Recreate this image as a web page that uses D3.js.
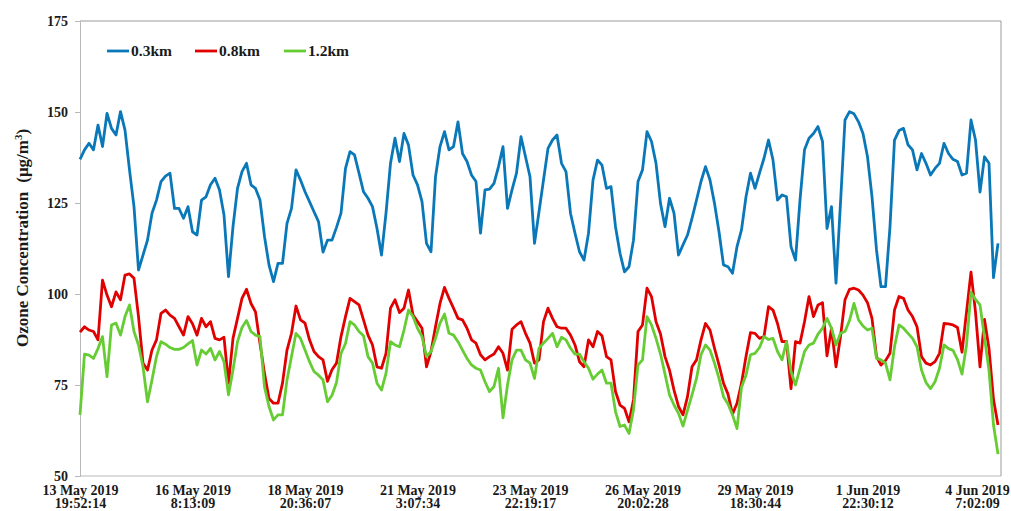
<!DOCTYPE html>
<html>
<head>
<meta charset="utf-8">
<script src="https://cdn.jsdelivr.net/npm/d3@7/dist/d3.min.js"></script>
<style>
  html, body { margin: 0; padding: 0; background: #fff; }
  svg { display: block; }
  text { font-family: "Liberation Serif", "Times New Roman", serif; font-weight: bold; fill: #1a1a1a; }
</style>
</head>
<body>
<svg id="chart" width="1011" height="511"></svg>
<script>
// Ozone concentration at three heights, one sample per category step
const seriesNames = ["0.3km", "0.8km", "1.2km"];

const ozone03 = [
  137,139.6,141.4,139.6,146.4,140.5,149.6,145.5,143.7,150.1,145,134.1,124,106.6,110.7,114.8,122.2,125.8,130.9,132.4,
  133.2,123.5,123.5,120.8,124,117.1,116.2,125.8,126.7,130,131.8,128.6,121.7,104.8,118.5,129,133.6,135.9,130,129,
  125.8,115.8,108,103.4,108.4,108.4,119.4,123.5,134.1,131.3,128.1,125.4,122.6,119.9,111.5,114.8,114.8,118.3,122.2,134.5,
  139.1,138.2,133.2,128.1,126.3,124,118,110.7,122.2,135.9,142.8,136.4,144.1,140.9,132.7,130,125.4,113.9,111.6,132.2,
  140.5,144.6,139.6,140.5,147.3,138.6,136.4,132.7,130.9,116.7,128.6,128.8,130.4,135,140.5,123.5,128.6,133.2,143.2,137.7,
  132.2,113.9,122.6,131.3,140,142.3,143.7,135.9,133.6,122.2,116.7,111.6,109.3,116.7,131.3,136.8,135.4,129,129.5,118.5,
  111.2,106.1,107.5,114.8,130.9,134.1,144.6,141.9,135.9,124.9,118.5,126.3,122.2,110.7,113.5,116.2,120.8,125.8,130.9,135,
  131.3,124.9,117.1,108,107.5,105.7,113,117.6,126.7,133.2,129,133.2,137.3,142.3,136.8,125.8,127.2,126.7,113,109.3,
  125.8,139.6,142.8,144.1,146,141.9,118,124,103,125,147.8,150.1,149.5,147.3,144.1,137.7,126.7,112.1,102,102,
  118.5,142.3,144.9,145.5,141,139.6,134.1,138.6,135.9,132.7,134.5,135.9,141.4,138.6,137,136.4,132.7,133.2,147.8,142.3,
  128,137.7,135.9,104.5,113.9
];

const ozone08 = [
  89.5,91,90.1,89.7,87.4,103.8,99.7,96.5,100.6,98.4,105.2,105.5,104.3,93.8,81,79.1,84.6,87.4,94.7,95.6,
  94.2,93.3,91,88.7,93.8,91.8,88.7,93.3,91,92.4,87.8,87.4,88.1,75.5,87.8,93.3,98.8,101.3,97.4,95.1,
  86.4,78.2,71.3,70,70,75.5,84.6,89.2,96.7,92.9,92,87.4,84.2,82.8,81.9,76,79.2,81,88.3,93.8,
  98.8,97.9,97,92.9,88.7,86,80,79.6,83.7,96.1,98.4,94.9,96.1,101.1,94.2,92.4,90.6,80,84.2,91,
  97.4,101.8,98.8,96.1,93.3,92.9,90.6,87.4,86.5,83.3,81.9,82.8,83.5,85.5,83.7,79.1,90.3,91.5,92.4,89.2,
  86.5,81,81.9,92.4,96.1,93.3,91,90.6,90.6,88.7,86,81.4,80,87.4,85.5,89.7,88.5,82.8,81.9,73.2,
  69.5,68.6,64.9,70.9,89.7,91.5,101.6,99.3,92.4,89,82.8,79.1,73.6,69.1,66.8,71.8,80,81.9,87.4,91.9,
  90.1,85.1,80.5,75.5,72.5,67,70,75.5,82.8,89.4,89.2,87.8,88.3,96.5,95.6,91.9,86.9,87,74,86.9,
  86.5,92.4,99.3,93.8,97,97.6,83,90.6,80,88.3,98.4,101.3,101.6,101.1,99.7,97.6,93.3,82.8,80.5,81.7,
  83.7,95.6,99.3,98.8,95.6,93.8,91,82.8,81,80.5,81.4,83.7,91.9,91.8,91.5,90.8,84,95,106,95,
  80,93,85,71,64
];

const ozone12 = [
  66.8,83.5,83.2,82.3,85,88.3,77.3,91.5,92,88.7,93.8,97,89.7,86,80,70.4,76.4,82.8,86.9,86.2,
  85.3,84.8,84.8,85.3,86.3,87.2,80.5,84.6,83.5,85.1,81.9,84.2,81.4,72.3,79.1,86.9,90.8,92.7,89.7,88.7,
  88.3,74.5,69.1,65.4,66.8,66.8,76.4,82.8,89.2,87.8,84.6,81.4,78.7,77.7,76.4,70.4,72.2,75.7,83.7,86.4,
  92.4,91.5,89.7,88.5,82.8,81,75.5,73.6,78.2,86.9,86,85.5,90.1,95.6,93.8,90.6,88.3,82.8,84.2,87.8,
  92,94.5,89.2,88.7,86.9,84.6,82.3,80.5,79.6,79.1,75.9,73.2,74.6,79.6,66,75,81.9,84.6,84.6,81.9,
  81,76.8,85.1,86.5,87.8,89.2,85.5,88.1,87.4,85.1,83.5,83.5,81.4,79.6,76.6,78,79.1,75.5,75.5,67.7,
  63.6,64,61.7,68.2,80.5,81.9,93.8,91.5,87.8,83.5,78,72.3,69.5,67.2,63.7,68,72.3,76.8,83.3,86,
  84.6,81,76.8,71.8,69.8,66.8,63,74.4,77.7,83.3,83.7,85.3,88.3,87.5,87.8,84.2,81.9,86.9,78.7,75,
  79.6,84.2,86,86.5,89,90.6,93.3,90.6,86,89.2,89.7,92.7,97.4,92.9,91.2,90.1,90.6,82.3,81.9,81,
  76.4,85.5,91.5,90.6,89.2,87.8,85.5,79.1,75.7,74,75.9,79.6,86,85,84.5,82,78,86,100.5,98.5,
  97,88,79,64,56
];

// Category labels shown every 25 samples
const dateLabels = [
  ["13 May 2019", "19:52:14"],
  ["16 May 2019", "8:13:09"],
  ["18 May 2019", "20:36:07"],
  ["21 May 2019", "3:07:34"],
  ["23 May 2019", "22:19:17"],
  ["26 May 2019", "20:02:28"],
  ["29 May 2019", "18:30:44"],
  ["1 Jun 2019", "22:30:12"],
  ["4 Jun 2019", "7:02:09"]
];
const labelStep = 25;
const yTicks = [50, 75, 100, 125, 150, 175];

const colors = ["#0a78b8", "#e00000", "#66cc33"];

const svg = d3.select("#chart");
const plotLeft = 80, plotRight = 1001, plotTop = 21, plotBottom = 476;

const n = ozone03.length;
const x = d3.scaleLinear().domain([0, n - 1]).range([plotLeft, plotLeft + (n - 1) * 4.5]);
const y = d3.scaleLinear().domain([50, 175]).range([plotBottom, plotTop]);

// frame: top and right border
svg.append("line").attr("x1", plotLeft).attr("x2", plotRight).attr("y1", plotTop).attr("y2", plotTop)
  .attr("stroke", "#9a9a9a").attr("stroke-width", 1);
svg.append("line").attr("x1", plotRight).attr("x2", plotRight).attr("y1", plotTop).attr("y2", plotBottom)
  .attr("stroke", "#9a9a9a").attr("stroke-width", 1);

// y axis
const yAxis = svg.append("g").attr("transform", `translate(${plotLeft},0)`)
  .call(d3.axisLeft(y).tickValues(yTicks).tickSize(5).tickPadding(7));
yAxis.select(".domain").attr("stroke", "#b8b8b8");
yAxis.selectAll(".tick line").attr("stroke", "#b8b8b8");
yAxis.selectAll(".tick text").style("font-size", "14px")
  .style("font-family", "'Liberation Serif', serif").style("font-weight", "bold").attr("fill", "#1a1a1a");

// x axis (category labels, two lines each)
const xAxis = svg.append("g").attr("transform", `translate(0,${plotBottom})`)
  .call(d3.axisBottom(x).tickValues(dateLabels.map((d, i) => i * labelStep)).tickSize(0).tickFormat(""));
xAxis.select(".domain").attr("stroke", "#b8b8b8").attr("d", `M${plotLeft},0H${plotRight}`);
xAxis.selectAll(".tick").each(function (d, i) {
  const shift = i === dateLabels.length - 1 ? -3 : 0;
  const t = d3.select(this).append("text").attr("text-anchor", "middle")
    .style("font-size", "14px").attr("fill", "#1a1a1a");
  t.append("tspan").attr("x", shift).attr("y", 19).text(dateLabels[i][0]);
  t.append("tspan").attr("x", shift).attr("y", 32).text(dateLabels[i][1]);
});

// y axis title
const title = svg.append("text")
  .attr("transform", `translate(28,238) rotate(-90)`)
  .attr("text-anchor", "middle").style("font-size", "17px");
title.append("tspan").text("Ozone Concentration");
title.append("tspan").attr("dx", 9).text("(μg/m");
title.append("tspan").attr("dy", -6).style("font-size", "11px").text("3");
title.append("tspan").attr("dy", 6).text(")");

// series lines
const line = d3.line().x((d, i) => x(i)).y(d => y(d));
[ozone03, ozone08, ozone12].forEach((s, k) => {
  svg.append("path").datum(s).attr("d", line)
    .attr("fill", "none").attr("stroke", colors[k]).attr("stroke-width", 2.8)
    .attr("stroke-linejoin", "round");
});

// legend
const legendX = [107, 195, 284];
seriesNames.forEach((name, k) => {
  const g = svg.append("g").attr("transform", `translate(${legendX[k]},51)`);
  g.append("line").attr("x1", 0).attr("x2", 22).attr("stroke", colors[k]).attr("stroke-width", 2.8);
  g.append("text").attr("x", 24).attr("y", 5).style("font-size", "15.5px").text(name);
});
</script>
</body>
</html>
